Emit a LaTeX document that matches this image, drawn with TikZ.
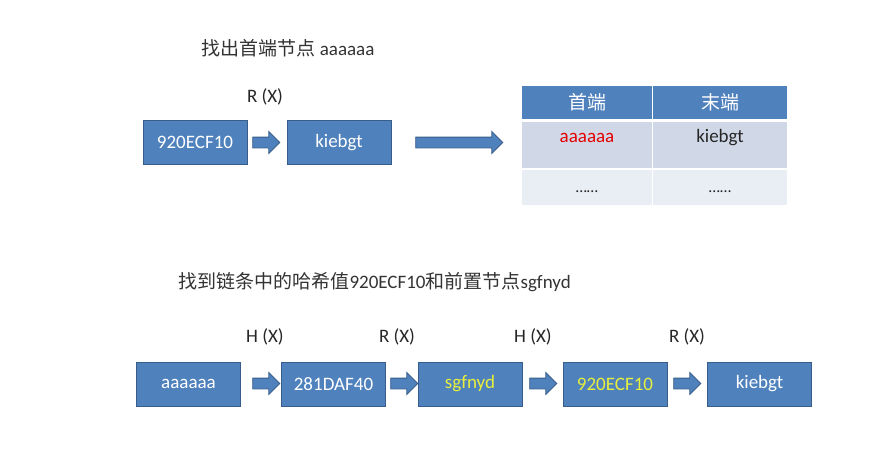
\documentclass[tikz,border=0pt]{standalone}
\usepackage{fontspec}
\setmainfont{Carlito}
\newfontfamily\cjk{Noto Sans CJK SC}
\usetikzlibrary{shapes.arrows,positioning}
\definecolor{boxblue}{HTML}{4F81BD}
\definecolor{boxedge}{HTML}{385D8A}
\definecolor{rowone}{HTML}{D0D8E8}
\definecolor{rowtwo}{HTML}{E9EDF4}
\definecolor{hilite}{RGB}{232,240,60}

\begin{document}
\begin{tikzpicture}[
  x=1pt, y=-1pt,
  every node/.style={font=\fontsize{19}{21}\selectfont},
  hashbox/.style={rectangle, fill=boxblue, draw=boxedge, line width=0.9pt,
    minimum width=104pt, minimum height=44pt, inner sep=0pt, text=white},
  barrow/.style={single arrow, fill=boxblue, draw=boxedge, line width=0.8pt,
    minimum width=21pt, single arrow head extend=5.5pt,
    single arrow head indent=0pt, inner sep=0pt, text height=5pt, text depth=5pt},
  cell/.style={rectangle, draw=white, line width=1.6pt, inner sep=0pt},
  fn/.style={text=black!85}
]
\useasboundingbox (0,0) rectangle (889,464);

% Top part: find the head node.
\node[anchor=west, text=black!80] (ttop) at (198,48)
  {{\cjk 找出首端节点} aaaaaa};
\node[hashbox] (t1) at (195,142.5) {920ECF10};
\node[hashbox] (t2) at (339,142.5) {kiebgt};
\node[barrow, minimum height=27pt] (ta) at (263.5,142.5) {};
\node[fn] (tr) at (265,97) {R (X)};
\node[barrow, minimum height=87pt] (tb) at (456.5,142.5) {};

% The table of head and tail.
\node[cell, fill=boxblue, minimum width=131pt, minimum height=35pt] (h1) at (587,102.5)
  {\cjk\color{white}首端};
\node[cell, fill=boxblue, minimum width=135pt, minimum height=35pt] (h2) at (720,102.5)
  {\cjk\color{white}末端};
\node[cell, fill=rowone, minimum width=131pt, minimum height=48pt] (a1) at (587,145)
  {};
\node[cell, fill=rowone, minimum width=135pt, minimum height=48pt] (a2) at (720,145)
  {};
\node[cell, fill=rowtwo, minimum width=131pt, minimum height=37pt] (b1) at (587,187.5)
  {};
\node[cell, fill=rowtwo, minimum width=135pt, minimum height=37pt] (b2) at (720,187.5)
  {};
\node[text=red!90!black] at (587,138) {aaaaaa};
\node[text=black!85] at (720,138) {kiebgt};
\node[text=black!85, font=\fontsize{16}{18}\selectfont] at (587,192) {……};
\node[text=black!85, font=\fontsize{16}{18}\selectfont] at (720,192) {……};

% Bottom part: walk the chain.
\node[anchor=west, text=black!80] (tbot) at (175,282)
  {{\cjk 找到链条中的哈希值}920ECF10{\cjk 和前置节点}sgfnyd};
\node[hashbox] (c1) at (188.5,384) {aaaaaa};
\node[hashbox] (c2) at (333.5,384) {281DAF40};
\node[hashbox, text=hilite] (c3) at (470,384) {sgfnyd};
\node[hashbox, text=hilite] (c4) at (615,384) {920ECF10};
\node[hashbox] (c5) at (759.5,384) {kiebgt};
\foreach \ax in {263.5,401.5,540.5,684.5}
  \node[barrow, minimum height=27pt] at (\ax,383.5) {};
\node[fn] (l1) at (265,337) {H (X)};
\node[fn] (l2) at (397,337) {R (X)};
\node[fn] (l3) at (533,337) {H (X)};
\node[fn] (l4) at (687,337) {R (X)};
\end{tikzpicture}
\end{document}
